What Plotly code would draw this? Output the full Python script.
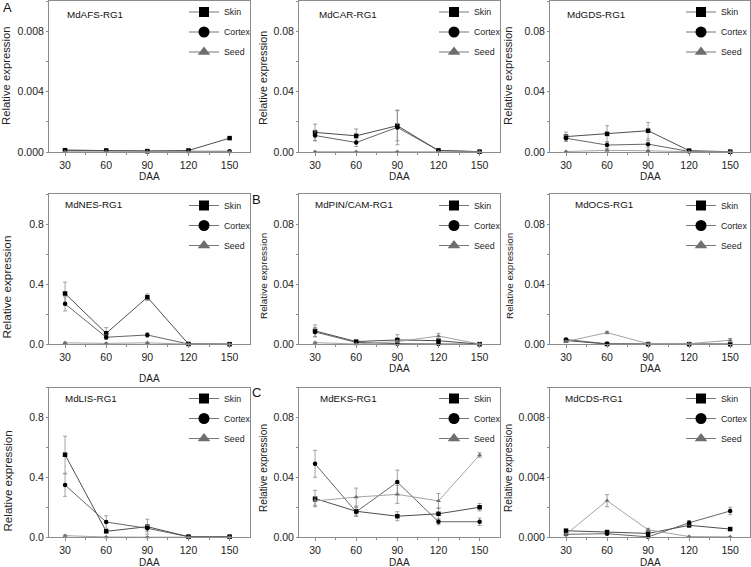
import plotly.graph_objects as go
from plotly.subplots import make_subplots

DAA = [30, 60, 90, 120, 150]
genes = ["MdAFS-RG1", "MdCAR-RG1", "MdGDS-RG1",
         "MdNES-RG1", "MdPIN/CAM-RG1", "MdOCS-RG1",
         "MdLIS-RG1", "MdEKS-RG1", "MdCDS-RG1"]

# Skin
skin_AFS = [0.00012, 0.00010, 0.00006, 0.00010, 0.00092]
skin_CAR = [0.0130, 0.0107, 0.0174, 0.0010, 0.0002]
skin_GDS = [0.0102, 0.0120, 0.0141, 0.0009, 0.0002]
skin_NES = [0.338, 0.073, 0.313, 0.002, 0.001]
skin_PIN = [0.0089, 0.0018, 0.0029, 0.0024, 0.0001]
skin_OCS = [0.0025, 0.0002, 0.0001, 0.0001, 0.0001]
skin_LIS = [0.552, 0.040, 0.071, 0.004, 0.004]
skin_EKS = [0.0259, 0.0174, 0.0141, 0.0157, 0.0201]
skin_CDS = [0.00044, 0.00035, 0.00026, 0.00080, 0.00055]
skin_err_AFS = [0.00003, 0.00002, 0.00001, 0.00002, 0.00004]
skin_err_CAR = [0.0055, 0.0046, 0.0100, 0.0004, 0.0001]
skin_err_GDS = [0.0030, 0.0054, 0.0055, 0.0003, 0.0001]
skin_err_NES = [0.075, 0.038, 0.022, 0.002, 0.001]
skin_err_PIN = [0.0040, 0.0006, 0.0035, 0.0010, 0.0001]
skin_err_OCS = [0.0005, 0.0001, 0.0001, 0.0001, 0.0001]
skin_err_LIS = [0.124, 0.010, 0.050, 0.002, 0.002]
skin_err_EKS = [0.0055, 0.0030, 0.0030, 0.0040, 0.0025]
skin_err_CDS = [0.00010, 0.00008, 0.00006, 0.00012, 0.00004]

# Cortex
cortex_AFS = [0.00012, 0.00008, 0.00004, 0.00005, 0.00005]
cortex_CAR = [0.0109, 0.0063, 0.0163, 0.0010, 0.0002]
cortex_GDS = [0.0091, 0.0046, 0.0052, 0.0004, 0.0001]
cortex_NES = [0.269, 0.047, 0.062, 0.002, 0.001]
cortex_PIN = [0.0082, 0.0013, 0.0004, 0.0002, 0.0001]
cortex_OCS = [0.0032, 0.0003, 0.0002, 0.0001, 0.0001]
cortex_LIS = [0.349, 0.102, 0.060, 0.004, 0.004]
cortex_EKS = [0.0491, 0.0170, 0.0369, 0.0104, 0.0104]
cortex_CDS = [0.00020, 0.00024, 0.00003, 0.00097, 0.00176]
cortex_err_AFS = [0.00003, 0.00002, 0.00001, 0.00001, 0.00001]
cortex_err_CAR = [0.0035, 0.0027, 0.0115, 0.0004, 0.0001]
cortex_err_GDS = [0.0020, 0.0022, 0.0025, 0.0002, 0.0001]
cortex_err_NES = [0.047, 0.015, 0.015, 0.001, 0.001]
cortex_err_PIN = [0.0030, 0.0005, 0.0002, 0.0001, 0.0001]
cortex_err_OCS = [0.0005, 0.0001, 0.0001, 0.0001, 0.0001]
cortex_err_LIS = [0.075, 0.042, 0.020, 0.002, 0.002]
cortex_err_EKS = [0.0090, 0.0030, 0.0080, 0.0020, 0.0025]
cortex_err_CDS = [0.00005, 0.00005, 0.00002, 0.00015, 0.00025]

# Seed
seed_AFS = [0.00002, 0.00001, 0.00001, 0.00001, 0.00001]
seed_CAR = [0.0002, 0.0001, 0.0002, 0.0001, 0.0001]
seed_GDS = [0.0003, 0.0011, 0.0008, 0.0002, 0.0002]
seed_NES = [0.010, 0.006, 0.010, 0.001, 0.001]
seed_PIN = [0.0011, 0.0002, 0.0018, 0.0055, 0.0002]
seed_OCS = [0.0018, 0.0078, 0.0004, 0.0004, 0.0027]
seed_LIS = [0.011, 0.002, 0.001, 0.001, 0.001]
seed_EKS = [0.0243, 0.0269, 0.0287, 0.0243, 0.0550]
seed_CDS = [0.00020, 0.00245, 0.00050, 0.00005, 0.00003]
seed_err_AFS = [0.00001, 0.00001, 0.00001, 0.00001, 0.00001]
seed_err_CAR = [0.0001, 0.0001, 0.0001, 0.0001, 0.0001]
seed_err_GDS = [0.0001, 0.0004, 0.0003, 0.0001, 0.0001]
seed_err_NES = [0.004, 0.003, 0.004, 0.001, 0.001]
seed_err_PIN = [0.0004, 0.0001, 0.0008, 0.0018, 0.0001]
seed_err_OCS = [0.0004, 0.0008, 0.0002, 0.0002, 0.0012]
seed_err_LIS = [0.004, 0.001, 0.001, 0.001, 0.001]
seed_err_EKS = [0.0030, 0.0060, 0.0060, 0.0050, 0.0015]
seed_err_CDS = [0.00005, 0.00040, 0.00010, 0.00002, 0.00001]

y_max = [0.01, 0.1, 0.1, 1.0, 0.1, 0.1, 1.0, 0.1, 0.01]
y_dtick = [0.004, 0.04, 0.04, 0.4, 0.04, 0.04, 0.4, 0.04, 0.004]
y_fmt = [".3f", ".2f", ".2f", ".1f", ".2f", ".2f", ".1f", ".2f", ".3f"]

skins = [skin_AFS, skin_CAR, skin_GDS, skin_NES, skin_PIN, skin_OCS, skin_LIS, skin_EKS, skin_CDS]
skin_errs = [skin_err_AFS, skin_err_CAR, skin_err_GDS, skin_err_NES, skin_err_PIN, skin_err_OCS, skin_err_LIS, skin_err_EKS, skin_err_CDS]
cortexs = [cortex_AFS, cortex_CAR, cortex_GDS, cortex_NES, cortex_PIN, cortex_OCS, cortex_LIS, cortex_EKS, cortex_CDS]
cortex_errs = [cortex_err_AFS, cortex_err_CAR, cortex_err_GDS, cortex_err_NES, cortex_err_PIN, cortex_err_OCS, cortex_err_LIS, cortex_err_EKS, cortex_err_CDS]
seeds = [seed_AFS, seed_CAR, seed_GDS, seed_NES, seed_PIN, seed_OCS, seed_LIS, seed_EKS, seed_CDS]
seed_errs = [seed_err_AFS, seed_err_CAR, seed_err_GDS, seed_err_NES, seed_err_PIN, seed_err_OCS, seed_err_LIS, seed_err_EKS, seed_err_CDS]

W, H = 751, 567
FONT = "Liberation Sans, Arial, sans-serif"

# layout geometry (pixels)
col_px = [(49, 249.5), (299, 499.5), (550, 750)]
row_px = [(1, 152), (194, 344.3), (387.7, 537.3)]
ytitle_x = [[6, 263, 508], [6.5, 263, 509], [6.5, 263, 508]]
ytitle_y = [[76, 78, 76], [287, 276, 276], [481, 468, 468]]
ytitle_size = [[11.3, 10.8, 11.3], [11.8, 9.9, 9.9], [11.6, 10.1, 10.1]]
daa_y = [[176, 176, 176], [378, 368, 368], [562, 562, 562]]
name_x = [[65, 317, 565], [63, 313, 573], [63, 318, 563]]
name_y = [[14, 14, 14], [204, 204, 204], [398, 398, 398]]
legend_x = [184, 434, 681]
legend_top = [-2.5, 191, 384]

def px(x):
    return x / W

def py(y):
    return 1 - y / H

fig = make_subplots(rows=3, cols=3)

series_style = [
    ("Skin", "square", "#000000", "#3a3a3a"),
    ("Cortex", "circle", "#000000", "#555555"),
    ("Seed", "triangle-up", "#6e6e6e", "#9a9a9a"),
]

annotations = []
for i in range(9):
    r, c = divmod(i, 3)
    vals = [(skins[i], skin_errs[i]), (cortexs[i], cortex_errs[i]), (seeds[i], seed_errs[i])]
    lname = "legend" if i == 0 else f"legend{i+1}"
    for (name, sym, mcol, lcol), (v, e) in zip(series_style, vals):
        fig.add_trace(go.Scatter(
            x=DAA, y=v, mode="lines+markers", name=name, showlegend=False,
            line=dict(color=lcol, width=0.9),
            marker=dict(symbol=sym, size=4.5, color=mcol),
            error_y=dict(type="data", array=e, color="#8a8a8a", thickness=0.8, width=2),
            cliponaxis=False,
        ), row=r + 1, col=c + 1)
    for k, (name, sym, mcol, lcol) in enumerate(series_style):
        fig.add_trace(go.Scatter(
            x=[None], y=[None], mode="lines+markers", name=name, showlegend=True,
            legend=lname, legendgroup=f"{i}_{name}",
            line=dict(color="#777777", width=1),
            marker=dict(symbol=sym, size=11 if sym != "square" else 10, color=mcol),
        ), row=r + 1, col=c + 1)

    x0, x1 = col_px[c]
    y0, y1 = row_px[r]
    xa = "xaxis" if i == 0 else f"xaxis{i+1}"
    ya = "yaxis" if i == 0 else f"yaxis{i+1}"
    fig.layout[xa].update(
        domain=[px(x0), px(x1)], range=[18.3, 164.5],
        tickvals=DAA, ticktext=[str(d) for d in DAA],
        showline=True, mirror=True, linecolor="#8c8c8c", linewidth=1,
        ticks="outside", ticklen=3, tickcolor="#8c8c8c", tickwidth=1,
        minor=dict(tickvals=[45, 75, 105, 135], ticks="outside", ticklen=2, tickcolor="#8c8c8c"),
        showgrid=False, zeroline=False,
        tickfont=dict(family=FONT, size=10.5, color="#222222"),
    )
    fig.layout[ya].update(
        domain=[py(y1), py(y0)], range=[0, y_max[i]],
        dtick=y_dtick[i], tick0=0, tickformat=y_fmt[i],
        showline=True, mirror=True, linecolor="#8c8c8c", linewidth=1,
        ticks="outside", ticklen=2, tickcolor="#8c8c8c", tickwidth=1,
        minor=dict(dtick=y_dtick[i] / 2, ticks="outside", ticklen=2, tickcolor="#8c8c8c"),
        showgrid=False, zeroline=False,
        tickfont=dict(family=FONT, size=10.5, color="#222222"),
    )

    # legend per panel
    fig.layout[lname] = dict(
        x=px(legend_x[c]), y=py(legend_top[r]),
        xanchor="left", yanchor="top",
        bgcolor="rgba(0,0,0,0)", borderwidth=0,
        font=dict(family=FONT, size=8.8, color="#222222"),
        tracegroupgap=1, itemwidth=30,
    )

    annotations.append(dict(
        text=genes[i], x=px(name_x[r][c]), y=py(name_y[r][c]),
        xref="paper", yref="paper", xanchor="left", yanchor="middle",
        showarrow=False, font=dict(family=FONT, size=9.8, color="#111111"),
    ))
    annotations.append(dict(
        text="Relative expression", x=px(ytitle_x[r][c]), y=py(ytitle_y[r][c]),
        xref="paper", yref="paper", xanchor="center", yanchor="middle",
        textangle=-90, showarrow=False,
        font=dict(family=FONT, size=ytitle_size[r][c], color="#222222"),
    ))
    annotations.append(dict(
        text="DAA", x=px((x0 + x1) / 2), y=py(daa_y[r][c]),
        xref="paper", yref="paper", xanchor="center", yanchor="middle",
        showarrow=False, font=dict(family=FONT, size=10, color="#222222"),
    ))

panel_letters = ["A", "B", "C"]
letter_pos = [(7, 7), (256, 199), (256, 392)]
for t, (lx, ly) in zip(panel_letters, letter_pos):
    annotations.append(dict(
        text=t, x=px(lx), y=py(ly), xref="paper", yref="paper",
        xanchor="center", yanchor="middle", showarrow=False,
        font=dict(family=FONT, size=13, color="#111111"),
    ))

fig.update_layout(
    width=W, height=H, margin=dict(l=0, r=0, t=0, b=0, autoexpand=False),
    paper_bgcolor="white", plot_bgcolor="white",
    annotations=annotations,
)

fig.write_html(
    "out.html",
    config={"displayModeBar": False},
    post_script="document.body.style.margin='0';document.body.style.overflow='hidden';",
)
